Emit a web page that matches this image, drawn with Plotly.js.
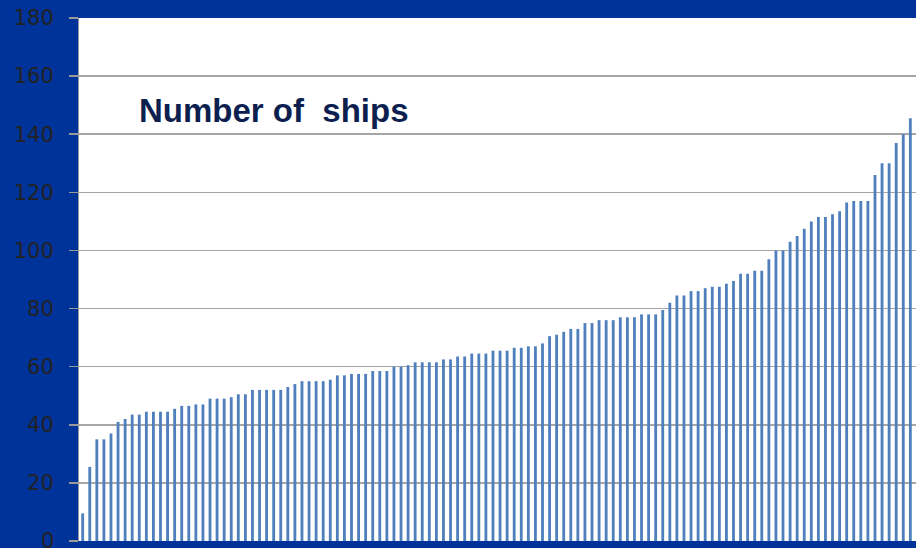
<!DOCTYPE html>
<html>
<head>
<meta charset="utf-8">
<script src="https://cdn.plot.ly/plotly-3.0.1.min.js"></script>
<style>
  html, body { margin: 0; padding: 0; background: #003399; }
  #chart { width: 916px; height: 548px; }
</style>
</head>
<body>
<div id="chart"></div>
<script>
// Ship counts, sorted ascending (one bar per entity)
const shipCounts = [
  9.5, 25.5, 35, 35, 37, 41, 42, 43.5, 43.5, 44.5,
  44.5, 44.5, 44.5, 45.5, 46.5, 46.5, 47, 47, 49, 49,
  49, 49.5, 50.5, 50.5, 52, 52, 52, 52, 52, 53,
  54, 55, 55, 55, 55, 55.5, 57, 57, 57.5, 57.5,
  57.5, 58.5, 58.5, 58.5, 60, 60, 60.5, 61.5, 61.5, 61.5,
  61.5, 62.5, 62.5, 63.5, 63.5, 64.5, 64.5, 64.5, 65.5, 65.5,
  65.5, 66.5, 66.5, 67, 67, 68, 70.5, 71, 72, 73,
  73, 75, 75, 76, 76, 76, 77, 77, 77, 78,
  78, 78, 79.5, 82, 84.5, 84.5, 86, 86, 87, 87.5,
  87.5, 88.5, 89.5, 92, 92, 93, 93, 97, 100, 100,
  103, 105, 107.5, 110, 111.5, 111.5, 112.5, 113.5, 116.5, 117,
  117, 117, 126, 130, 130, 137, 140, 145.5
];
const barIndex = shipCounts.map((_, i) => i + 1);
const yTickValues = [0, 20, 40, 60, 80, 100, 120, 140, 160, 180];
const chartTitle = "Number of  ships";

const tickFont = { family: "DejaVu Sans, Verdana, sans-serif", size: 21, color: "#222222" };
// trailing gap so labels sit further left of the tick marks (ZWSP keeps it from being trimmed)
const pad = "\u2002\u200B";

const trace = {
  type: "bar",
  x: barIndex,
  y: shipCounts,
  marker: { color: "#4f7fbc" },
  hoverinfo: "y"
};

const layout = {
  width: 916,
  height: 548,
  paper_bgcolor: "#003399",
  plot_bgcolor: "#ffffff",
  margin: { l: 79, r: 0, t: 18, b: 7 },
  bargap: 0.6,
  showlegend: false,
  xaxis: {
    type: "linear",
    range: [0.48, 118.8],
    showticklabels: false,
    showgrid: false,
    zeroline: false,
    ticks: "",
    showline: false
  },
  yaxis: {
    range: [0, 180],
    tickvals: yTickValues,
    ticktext: yTickValues.map(v => String(v) + pad),
    showgrid: true,
    gridcolor: "#a6a6a6",
    gridwidth: 1.5,
    zeroline: false,
    showline: true,
    linecolor: "#9a9a9a",
    linewidth: 1.5,
    ticks: "outside",
    ticklen: 9,
    tickcolor: "#9a9a9a",
    tickwidth: 1.5,
    tickfont: tickFont
  },
  annotations: [
    {
      text: chartTitle,
      xref: "paper", yref: "paper",
      x: 0.0693, y: 0.824,
      xanchor: "left", yanchor: "middle",
      showarrow: false,
      font: { family: "Liberation Sans", size: 33, color: "#0d1f4f", weight: "bold" }
    },
    {
      text: String(yTickValues[0]),
      xref: "paper", yref: "y",
      x: 0, y: yTickValues[0],
      xanchor: "right", yanchor: "middle",
      xshift: -23,
      showarrow: false,
      font: tickFont
    }
  ]
};

Plotly.newPlot("chart", [trace], layout, { displayModeBar: false, staticPlot: true });
</script>
</body>
</html>
